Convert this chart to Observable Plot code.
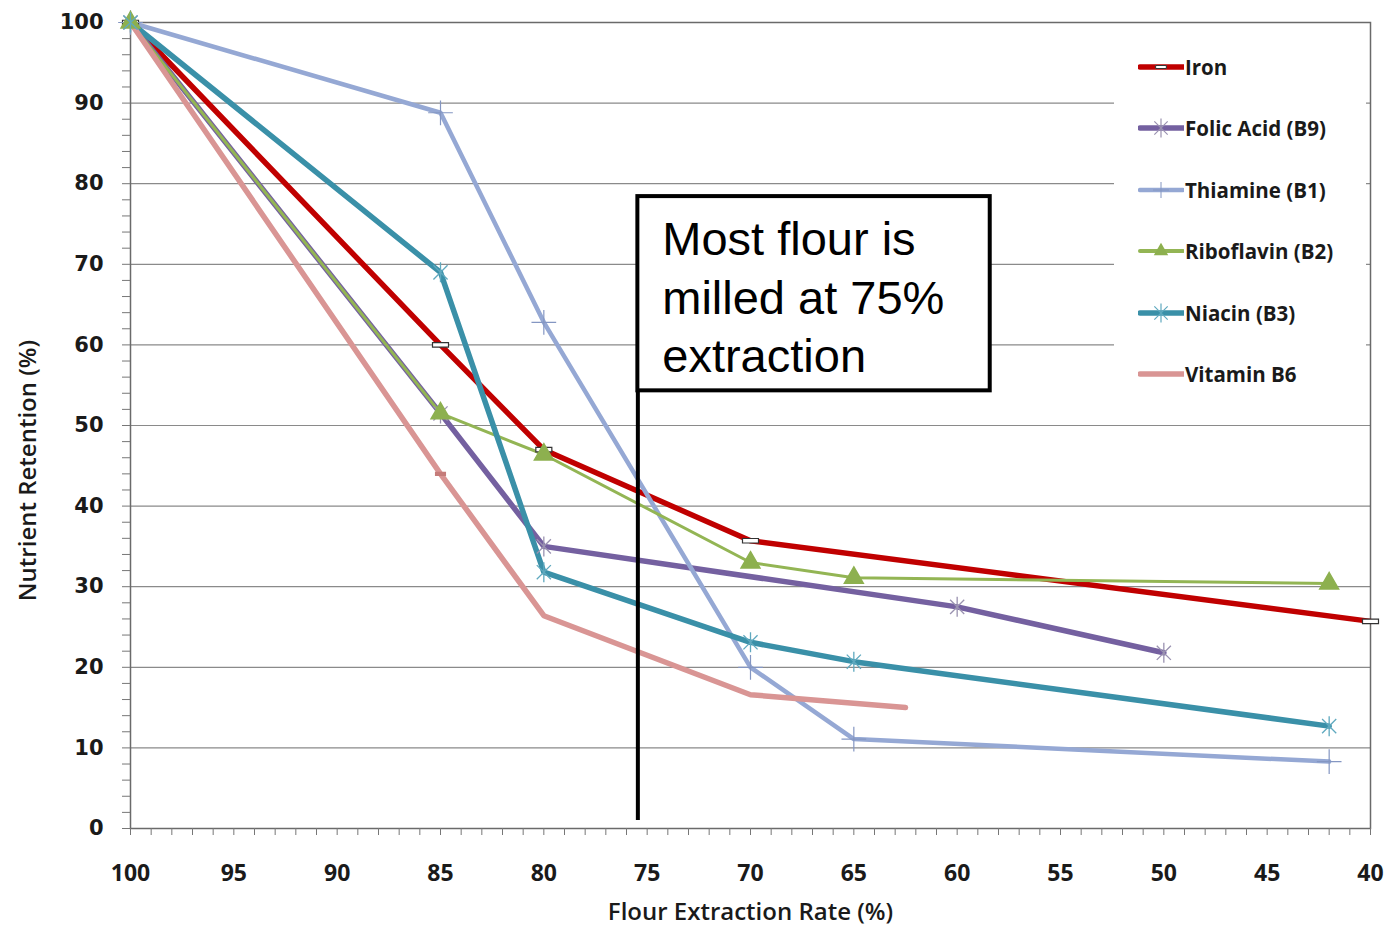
<!DOCTYPE html>
<html><head><meta charset="utf-8">
<script src="https://cdn.jsdelivr.net/npm/d3@7"></script>
<script src="https://cdn.jsdelivr.net/npm/@observablehq/plot@0.6"></script>
<style>
body{margin:0;background:#fff;}
#wrap{position:relative;width:1391px;height:927px;font-family:"Open Sans",sans-serif;}
#legend{position:absolute;left:1114px;top:30px;width:252px;height:372px;background:#fff;}
.item{position:absolute;left:24px;height:26px;display:flex;align-items:center;font-weight:700;font-size:20.5px;color:#1a1a1a;white-space:nowrap;}
.item svg{display:block;margin-right:1px;}
</style></head><body><div id="wrap"><div id="legend"></div></div>
<script>
// ---- Data ----
const seriesNames = ["Iron", "Folic Acid (B9)", "Thiamine (B1)", "Riboflavin (B2)", "Niacin (B3)", "Vitamin B6"];
const seriesColors = ["#C00000", "#7460A0", "#95A8D4", "#93B554", "#3A90A8", "#D99594"];
const seriesWidths = [5.5, 5.5, 4.5, 3, 5.5, 5.5];

const ironX = [100, 85, 80, 70, 40];
const ironY = [100, 60, 47, 35.7, 25.7];
const folicX = [100, 85, 80, 60, 50];
const folicY = [100, 51.5, 35, 27.5, 21.8];
const thiamineX = [100, 85, 80, 70, 65, 42];
const thiamineY = [100, 88.8, 62.8, 20, 11.1, 8.3];
const riboflavinX = [100, 85, 80, 70, 65, 42];
const riboflavinY = [100, 51.5, 46.4, 33, 31.1, 30.4];
const niacinX = [100, 85, 80, 70, 65, 42];
const niacinY = [100, 69, 31.8, 23.1, 20.7, 12.7];
const b6X = [100, 85, 80, 70, 62.5];
const b6Y = [100, 44, 26.4, 16.6, 15];

const xTicks = d3.range(40, 101, 5);
const xMinorTicks = d3.range(40, 101, 1);
const yTicks = d3.range(0, 101, 10);
const yMinorTicks = d3.range(0, 101, 2);
const yGrid = d3.range(10, 101, 10);

const xTitle = "Flour Extraction Rate (%)";
const yTitle = "Nutrient Retention (%)";
const annoText = "Most flour is\nmilled at 75%\nextraction";
const annoRuleX = [75.45];
const annoRuleY = [1, 54.3];
const annoBoxX = [75.45, 58.4];
const annoBoxY = [54.3, 78.4];
const annoTextPos = [74.27, 76.3];

// ---- Build table ----
const allX = [ironX, folicX, thiamineX, riboflavinX, niacinX, b6X];
const allY = [ironY, folicY, thiamineY, riboflavinY, niacinY, b6Y];
const rows = [];
seriesNames.forEach((s, i) => allX[i].forEach((x, j) => rows.push({series: s, x, y: allY[i][j]})));
const of = s => rows.filter(d => d.series === s);

// custom marker symbols
const dashSymbol = {draw(ctx, size){ const r = Math.sqrt(size / Math.PI); ctx.rect(-r*1.6, -r*0.45, r*3.2, r*0.9); }};
const starX = {draw(ctx, size){ const r = Math.sqrt(size / Math.PI);
  for (const t of [Math.PI/4, 3*Math.PI/4, Math.PI/2]){ ctx.moveTo(-r*Math.cos(t), -r*Math.sin(t)); ctx.lineTo(r*Math.cos(t), r*Math.sin(t)); } }};
const starN = starX;

const lineMarks = seriesNames.map((s, i) => Plot.line(of(s), {x: "x", y: "y", stroke: seriesColors[i], strokeWidth: seriesWidths[i], strokeLinejoin: "round"}));

const markerMarks = [
  Plot.dot(of("Iron"), {x: "x", y: "y", symbol: dashSymbol, r: 5, fill: "#fff", stroke: "#333", strokeWidth: 1.2}),
  Plot.dot(of("Folic Acid (B9)"), {x: "x", y: "y", symbol: starX, r: 10, stroke: "#9a92b0", strokeWidth: 1.3, fill: "none"}),
  Plot.dot(of("Thiamine (B1)"), {x: "x", y: "y", symbol: "plus", r: 8, stroke: "#8496c2", strokeWidth: 1.2, fill: "none"}),
  Plot.dot(of("Riboflavin (B2)"), {x: "x", y: "y", symbol: "triangle", r: 7, fill: "#8DB04F", stroke: "#8DB04F"}),
  Plot.dot(of("Niacin (B3)"), {x: "x", y: "y", symbol: starN, r: 10, stroke: "#5fa9bf", strokeWidth: 1.3, fill: "none"}),
  Plot.dot(of("Vitamin B6").filter(d => d.x === 85), {x: "x", y: "y", symbol: dashSymbol, r: 3, fill: "#C57C7A", stroke: "#C57C7A"})
];

const chart = Plot.plot({
  width: 1391, height: 927,
  marginLeft: 130, marginRight: 21, marginTop: 22, marginBottom: 99,
  style: {fontFamily: "'Open Sans', sans-serif", background: "#fff", color: "#1a1a1a"},
  x: {domain: [100, 40]},
  y: {domain: [0, 100]},
  marks: [
    Plot.gridY(yGrid, {stroke: "#8a8a8a", strokeOpacity: 1, strokeWidth: 1.2}),
    Plot.frame({stroke: "#6a6a6a", strokeWidth: 1.5}),
    Plot.axisY(yMinorTicks, {tickSize: 8, tickFormat: () => "", label: null, stroke: "#777"}),
    Plot.axisY(yTicks, {tickSize: 0, tickPadding: 27, fontSize: 21, fontWeight: "bold", fontFamily: "DejaVu Sans", label: null}),
    Plot.axisX(xMinorTicks, {tickSize: 7, tickFormat: () => "", label: null, stroke: "#777"}),
    Plot.axisX(xTicks, {tickSize: 0, tickPadding: 36, fontSize: 23, fontWeight: "bold", label: null}),
    Plot.text([xTitle], {frameAnchor: "bottom", lineAnchor: "middle", textAnchor: "middle", dy: 84, text: d => d, fontSize: 24, fontWeight: 600}),
    Plot.text([yTitle], {frameAnchor: "left", lineAnchor: "middle", textAnchor: "middle", dx: -102, dy: 45, rotate: -90, text: d => d, fontSize: 24, fontWeight: 600}),
    ...lineMarks,
    ...markerMarks,
    Plot.ruleX(annoRuleX, {x: d => d, y1: annoRuleY[0], y2: annoRuleY[1], stroke: "#000", strokeWidth: 4}),
    Plot.rect([0], {x1: annoBoxX[0], x2: annoBoxX[1], y1: annoBoxY[0], y2: annoBoxY[1], fill: "#fff", stroke: "#000", strokeWidth: 4}),
    Plot.text([annoText], {x: annoTextPos[0], y: annoTextPos[1], text: d => d, textAnchor: "start", lineAnchor: "top", fontSize: 47, lineHeight: 1.245, fontFamily: "Liberation Sans, Arial, sans-serif", fill: "#000"})
  ]
});
document.getElementById("wrap").prepend(chart);

// ---- Legend ----
const legendCenters = [67, 128, 190, 251, 313, 374];
const legendMarkers = [dashSymbol, starX, "plus", "triangle", starN, null];
const legend = document.getElementById("legend");
seriesNames.forEach((s, i) => {
  const item = document.createElement("div");
  item.className = "item";
  item.style.top = (legendCenters[i] - 30 - 13) + "px";
  const svg = d3.create("svg").attr("width", 46).attr("height", 26);
  svg.append("line").attr("x1", 2).attr("x2", 45).attr("y1", 13).attr("y2", 13)
    .attr("stroke", seriesColors[i]).attr("stroke-width", Math.max(seriesWidths[i], 4)).attr("stroke-linecap", "round");
  const m = legendMarkers[i];
  if (m) {
    const t = typeof m === "string" ? (m === "plus" ? d3.symbolPlus : d3.symbolTriangle) : m;
    const p = svg.append("path").attr("transform", "translate(23,13)");
    if (i === 0) p.attr("d", d3.symbol(t, 35)()).attr("fill", "#fff").attr("stroke", "#333");
    else if (i === 3) p.attr("d", d3.symbol(t, 90)()).attr("fill", "#8DB04F");
    else if (i === 2) p.attr("d", "M0,-8V8M-8,0H8").attr("stroke", "#8496c2").attr("fill", "none");
    else p.attr("d", d3.symbol(t, 280)()).attr("stroke", i === 1 ? "#9a92b0" : "#5fa9bf").attr("fill", "none").attr("stroke-width", 1.2);
  }
  item.append(svg.node());
  const span = document.createElement("span");
  span.textContent = s;
  item.append(span);
  legend.append(item);
});
</script></body></html>
